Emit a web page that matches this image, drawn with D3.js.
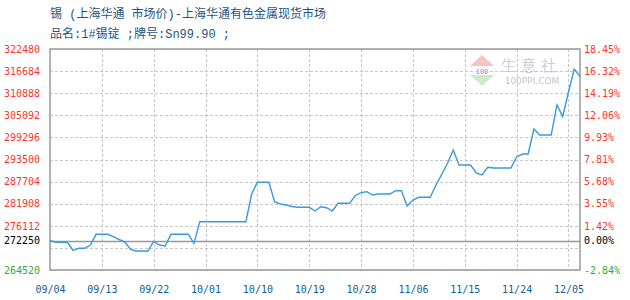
<!DOCTYPE html>
<html><head><meta charset="utf-8">
<script src="https://cdn.jsdelivr.net/npm/d3@7"></script>
<style>
html,body{margin:0;padding:0;background:#fff;}
svg{display:block;}
</style></head>
<body>
<svg id="chart" width="630" height="300"></svg>
<script>
// ---- data ----
const titleLine1 = "锡 (上海华通 市场价)-上海华通有色金属现货市场";
const titleLine2 = "品名:1#锡锭 ;牌号:Sn99.90 ;";
const xTickLabels = ["09/04","09/13","09/22","10/01","10/10","10/19","10/28","11/06","11/15","11/24","12/05"];
const xTickStep = 9;
const basePrice = 272250;
const yTickValues = [322480,316684,310888,305092,299296,293500,287704,281908,276112,272250,264520];
const prices = [
  272250,271780,271780,271780,269640,270210,270210,271080,273880,273880,
  273880,273250,272520,271860,269900,269500,269500,269500,272000,271080,
  270820,273880,273880,273880,273880,271520,277190,277190,277190,277190,
  277190,277190,277190,277190,277190,284450,287520,287520,287520,282350,
  281830,281570,281170,280960,280960,280960,279990,281120,280860,279990,
  282010,282010,282010,284060,284790,285060,284190,284450,284450,284450,
  285320,285320,281310,282880,283590,283590,283590,286810,289620,292500,
  295990,292060,292060,292060,289960,289440,291450,291270,291270,291270,
  291270,294160,294940,294940,301500,299930,299930,299930,307790,304730,
  311200,317240,315220
];

// ---- layout ----
const svg = d3.select("#chart");
const L = 50, R = 580, T = 49, B = 270;
const x = d3.scaleLinear().domain([0, prices.length - 1]).range([L, R]);
const y = d3.scaleLinear().domain([264520, 322480]).range([B, T]);
const monoFont = "'DejaVu Sans Mono', monospace";
const cjkFont = "'Noto Sans CJK SC', sans-serif";
const titleFont = "'Liberation Mono', 'Noto Sans CJK SC', monospace";

// titles
svg.append("text").attr("x", 50).attr("y", 18).attr("font-family", titleFont)
  .attr("font-size", 12).attr("fill", "#1d5580").text(titleLine1);
svg.append("text").attr("x", 50).attr("y", 38).attr("font-family", titleFont)
  .attr("font-size", 12).attr("fill", "#1d5580").text(titleLine2);

// watermark
const wm = svg.append("g").attr("opacity", 0.6);
wm.append("path").attr("d", "M482,55 L494,66 L470,66 Z").attr("fill", "#f2a0a0");
wm.append("path").attr("d", "M470,75 L494,75 L482,86 Z").attr("fill", "#a8e0a8");
wm.append("text").attr("x", 482).attr("y", 73.5).attr("text-anchor", "middle")
  .attr("font-family", monoFont).attr("font-size", 7).attr("font-weight", "bold").attr("fill", "#7a80b0").text("100");
wm.append("text").attr("x", 531).attr("y", 71).attr("text-anchor", "middle")
  .attr("font-family", cjkFont).attr("font-size", 15).attr("letter-spacing", 5).attr("fill", "#a8aed0").text("生意社");
wm.append("text").attr("x", 532).attr("y", 84).attr("text-anchor", "middle")
  .attr("font-family", "'DejaVu Sans', sans-serif").attr("font-size", 9).attr("fill", "#a0a0a0").text("100PPI.COM");

// grid
const grid = svg.append("g");
const gridVals = d3.range(264520, 322481, 5796);
grid.selectAll("line.h").data(gridVals).join("line")
  .attr("x1", L).attr("x2", R).attr("y1", d => Math.round(y(d)) + 0.5).attr("y2", d => Math.round(y(d)) + 0.5)
  .attr("stroke", "#c8c8c8").attr("stroke-dasharray", "3,2");
const xTickIdx = xTickLabels.map((_, i) => i * xTickStep);
grid.selectAll("line.v").data(xTickIdx.slice(1)).join("line")
  .attr("x1", d => Math.round(x(d)) + 0.5).attr("x2", d => Math.round(x(d)) + 0.5)
  .attr("y1", T).attr("y2", B)
  .attr("stroke", "#c8c8c8").attr("stroke-dasharray", "3,2");

// base line
svg.append("line").attr("x1", L).attr("x2", R)
  .attr("y1", Math.round(y(basePrice)) + 0.5).attr("y2", Math.round(y(basePrice)) + 0.5)
  .attr("stroke", "#999").attr("stroke-width", 1.3);

// frame
svg.append("rect").attr("x", L).attr("y", T).attr("width", R - L).attr("height", B - T)
  .attr("fill", "none").attr("stroke", "#999").attr("stroke-width", 1.5);

// axes
const colorFor = v => v > basePrice ? "#ff3333" : (v < basePrice ? "#33aa33" : "#000");
const leftAxis = d3.axisLeft(y).tickValues(yTickValues).tickSize(0).tickPadding(10).tickFormat(d => String(d));
const gl = svg.append("g").attr("transform", `translate(${L},0)`).call(leftAxis);
gl.select(".domain").remove();
gl.selectAll("text").attr("font-family", monoFont).attr("font-size", 10).attr("fill", d => colorFor(d));

const rightAxis = d3.axisRight(y).tickValues(yTickValues).tickSize(0).tickPadding(4)
  .tickFormat(d => ((d - basePrice) / basePrice * 100).toFixed(2) + "%");
const gr = svg.append("g").attr("transform", `translate(${R},0)`).call(rightAxis);
gr.select(".domain").remove();
gr.selectAll("text").attr("font-family", monoFont).attr("font-size", 10).attr("fill", d => colorFor(d));

const bottomAxis = d3.axisBottom(x).tickValues(xTickIdx).tickSize(0).tickPadding(16)
  .tickFormat((d, i) => xTickLabels[i]);
const gb = svg.append("g").attr("transform", `translate(0,${B})`).call(bottomAxis);
gb.select(".domain").remove();
gb.selectAll("text").attr("font-family", monoFont).attr("font-size", 10).attr("fill", "#0f5f94");

// line
const line = d3.line().x((d, i) => x(i)).y(d => y(d));
svg.append("path").datum(prices).attr("d", line)
  .attr("fill", "none").attr("stroke", "#3c9ad8").attr("stroke-width", 1.4);
</script>
</body></html>
